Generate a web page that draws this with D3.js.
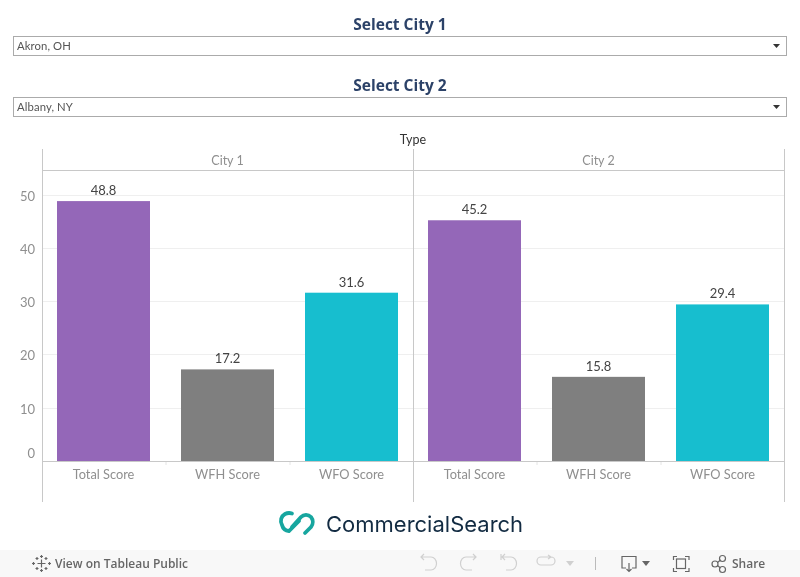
<!DOCTYPE html>
<html><head><meta charset="utf-8">
<script src="https://cdn.jsdelivr.net/npm/d3@7"></script>
<style>html,body{margin:0;padding:0;background:#fff;overflow:hidden}svg{display:block;will-change:transform}</style>
</head><body><svg id="c" width="800" height="577"></svg>
<script>
const types = ["Total Score", "WFH Score", "WFO Score"];
const panels = ["City 1", "City 2"];
const city1Values = [48.8, 17.2, 31.6];
const city2Values = [45.2, 15.8, 29.4];
const valueLabels1 = ["48.8", "17.2", "31.6"];
const valueLabels2 = ["45.2", "15.8", "29.4"];
const yTicks = [0, 10, 20, 30, 40, 50];
const colors = ["#9467b8", "#7f7f7f", "#17becf"];
const selectors = [["Select City 1", "Akron, OH"], ["Select City 2", "Albany, NY"]];

const FONT = "'Open Sans', 'Noto Sans', sans-serif";
const LIGHT = "Lato, 'Open Sans', sans-serif";
const svg = d3.select("#c");
const y = d3.scaleLinear().domain([0, 50]).range([461, 194.7]);
const px = d3.scaleBand().domain(panels).range([41.5, 783.5]);
const x = d3.scaleBand().domain(types).range([0, 372]).paddingInner(0.25).paddingOuter(0.125);

// selectors
selectors.forEach((s, i) => {
  const top = 37 + i * 61;
  svg.append("text").attr("x", 400).attr("y", top - 7).attr("text-anchor", "middle")
    .attr("font-family", FONT).attr("font-weight", 700).attr("font-size", 15.5).attr("fill", "#2c4268").text(s[0]);
  svg.append("rect").attr("x", 13.5).attr("y", top - .5).attr("width", 773).attr("height", 19)
    .attr("fill", "#fff").attr("stroke", "#ababab");
  svg.append("text").attr("x", 17).attr("y", top + 13).attr("font-family", LIGHT).attr("font-size", 11.3).attr("fill", "#555").attr("letter-spacing", 0.1).text(s[1]);
  svg.append("path").attr("d", `M773 ${top + 7}h7l-3.5 4z`).attr("fill", "#333");
});

svg.append("text").attr("x", 413).attr("y", 144).attr("text-anchor", "middle")
  .attr("font-family", LIGHT).attr("font-size", 12.5).attr("fill", "#333").text("Type");

// gridlines
const grid = svg.append("g");
yTicks.filter(d => d > 0).forEach(d => {
  grid.append("line").attr("x1", 43).attr("x2", 785).attr("y1", Math.round(y(d)) + .5).attr("y2", Math.round(y(d)) + .5).attr("stroke", "#efefef");
});

// y axis
const yAxis = svg.append("g").attr("transform", "translate(35,0)")
  .call(d3.axisLeft(y).tickValues(yTicks).tickSize(0).tickPadding(0));
yAxis.select(".domain").remove();
yAxis.selectAll("text").attr("font-family", LIGHT).attr("font-size", 13).attr("fill", "#8f8f8f")
  .attr("dy", d => d === 0 ? "-0.28em" : "0.42em");

// panels
const series = [city1Values, city2Values];
const labels = [valueLabels1, valueLabels2];
panels.forEach((p, i) => {
  const g = svg.append("g").attr("transform", `translate(${px(p)},0)`);
  g.selectAll("rect.bar").data(types).join("rect").attr("class", "bar")
    .attr("x", d => x(d)).attr("width", x.bandwidth())
    .attr("y", (d, j) => y(series[i][j])).attr("height", (d, j) => y(0) - y(series[i][j]))
    .attr("fill", (d, j) => colors[j]);
  g.selectAll("text.val").data(types).join("text").attr("class", "val")
    .attr("x", d => x(d) + x.bandwidth() / 2).attr("y", (d, j) => y(series[i][j]) - 6)
    .attr("text-anchor", "middle").attr("font-family", LIGHT).attr("font-size", 13).attr("fill", "#444")
    .text((d, j) => labels[i][j]);
  g.selectAll("text.cat").data(types).join("text").attr("class", "cat")
    .attr("x", d => x(d) + x.bandwidth() / 2).attr("y", 479)
    .attr("text-anchor", "middle").attr("font-family", LIGHT).attr("font-size", 12.8).attr("fill", "#8f8f8f").text(d => d);
  g.append("text").attr("x", x(types[1]) + x.bandwidth() / 2).attr("y", 165).attr("text-anchor", "middle")
    .attr("font-family", LIGHT).attr("font-size", 12.5).attr("fill", "#8f8f8f").text(p);
  types.slice(1).forEach(t => {
    const tx = Math.round(x(t) - x.step() * x.paddingInner() / 2) + .5;
    g.append("line").attr("x1", tx).attr("x2", tx).attr("y1", 461).attr("y2", 465).attr("stroke", "#e4e4e4");
  });
});

// frame
const frame = svg.append("g").attr("stroke", "#c8c8c8").attr("fill", "none");
[42.5, 413.5, 784.5].forEach(v => frame.append("line").attr("x1", v).attr("x2", v).attr("y1", 149).attr("y2", 502));
frame.append("line").attr("x1", 42).attr("x2", 785).attr("y1", 170.5).attr("y2", 170.5);
frame.append("line").attr("x1", 42).attr("x2", 785).attr("y1", 461.5).attr("y2", 461.5);

// logo
const logo = svg.append("g").attr("fill", "none").attr("stroke", "#17a69f").attr("stroke-width", 3.8).attr("stroke-linecap", "round");
logo.append("path").attr("d", "M292 513.500 A9 9 0 0 0 285 514 A8 8 0 0 0 282 525 A8 8 0 0 0 289 531 L299 521");
logo.append("path").attr("d", "M292 527 L301 517 A7 7 0 0 1 311 517 A8 8 0 0 1 311 527 L305 533");
svg.append("text").attr("x", 326).attr("y", 532).attr("font-family", "Inter, sans-serif").attr("font-size", 22)
  .attr("fill", "#122b42").text("CommercialSearch");

// toolbar
svg.append("rect").attr("x", 0).attr("y", 550).attr("width", 800).attr("height", 27).attr("fill", "#f8f8f8");
const tb = svg.append("g");
const star = tb.append("g").attr("stroke", "#666").attr("stroke-width", 1.2).attr("fill", "none").attr("transform", "translate(41.5,563.5)");
star.append("path").attr("d", "M-4 0h8M0-4v8M-8-1.500v3M-9.500 0h3M8-1.500v3M6.500 0h3M-1.500-7h3M0-8.500v3M-1.500 7h3M0 5.500v3M-6-5h3M-4.500-6.500v3M3-5h3M4.500-6.500v3M-6 5h3M-4.500 3.500v3M3 5h3M4.500 3.500v3");
tb.append("text").attr("x", 55).attr("y", 568).attr("font-family", FONT).attr("font-weight", 600).attr("font-size", 12).attr("fill", "#666").text("View on Tableau Public");
const off = tb.append("g").attr("fill", "none").attr("stroke", "#d0d0d0").attr("stroke-width", 1.2);
off.append("path").attr("d", "M421 557h10a5.500 6.500 0 0 1 0 13h-6M424 554l-3 3 3 3");
off.append("path").attr("d", "M476 557h-10a5.500 6.500 0 0 0 0 13h6M473 554l3 3-3 3");
off.append("path").attr("d", "M501 554v6M502 557h9a5.500 6.500 0 0 1 0 13h-5M505 554l-3 3 3 3");
off.append("path").attr("d", "M541 557h10M548 555l3 2-3 2M541 557a4 4 0 0 0 0 8h10a4 4 0 0 0 0-8");
tb.append("path").attr("d", "M566 561h8l-4 5z").attr("fill", "#d0d0d0");
tb.append("line").attr("x1", 595.5).attr("x2", 595.5).attr("y1", 557).attr("y2", 570).attr("stroke", "#bbb");
const on = tb.append("g").attr("fill", "none").attr("stroke", "#666").attr("stroke-width", 1.2);
on.append("path").attr("d", "M626 568h-4v-11.500h14v11.500h-4M629 563v8M626.500 569l2.500 2.500 2.500-2.500");
tb.append("path").attr("d", "M642 561h8l-4 5z").attr("fill", "#666");
on.append("path").attr("d", "M673.500 560v-3.500h3.500M685 556.500h4v3.500M673.500 568v3.500h3.500M685 571.500h4v-3.500");
on.append("rect").attr("x", 676.500).attr("y", 559).attr("width", 9).attr("height", 9.5);
on.append("circle").attr("cx", 715).attr("cy", 564).attr("r", 3);
on.append("circle").attr("cx", 722.500).attr("cy", 558.500).attr("r", 3);
on.append("circle").attr("cx", 722.500).attr("cy", 569.500).attr("r", 3);
on.append("path").attr("d", "M717.500 562.500l3-2.500M717.500 565.500l3 2.500");
tb.append("text").attr("x", 732).attr("y", 568).attr("font-family", FONT).attr("font-weight", 600).attr("font-size", 12).attr("fill", "#666").text("Share");
</script></body></html>
